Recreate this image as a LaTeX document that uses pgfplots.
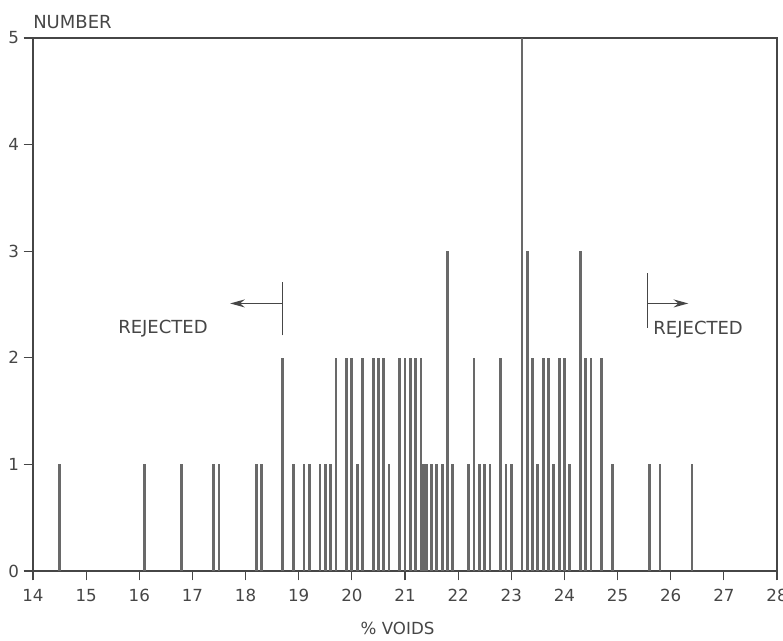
\documentclass[border=0pt]{standalone}
\usepackage{pgfplots}
\pgfplotsset{compat=1.18}
\usepackage{fontspec}
\setmainfont{DejaVu Sans}
\usetikzlibrary{arrows.meta}
\definecolor{ink}{RGB}{105,105,105}
\definecolor{axink}{RGB}{70,70,70}
\begin{document}
\begin{tikzpicture}
\begin{axis}[
  name=ax,
  scale only axis,
  width=558pt, height=399.75pt,
  xmin=14, xmax=28, ymin=0, ymax=5,
  xtick={14,...,28}, ytick={0,...,5},
  tick align=outside,
  xtick pos=bottom, ytick pos=left,
  major tick length=7pt,
  axis line style={axink, line width=1.1pt},
  every tick/.style={axink, line width=0.9pt},
  tick label style={font=\fontsize{12.5}{14}\selectfont, text=axink},
  /pgf/number format/assume math mode=true,
  xticklabel style={yshift=-3pt},
  xlabel={\% VOIDS},
  x label style={at={(axis description cs:0.49,0)}, anchor=center, yshift=-43pt, font=\fontsize{12.5}{14}\selectfont, text=axink},
  clip=false,
]
\addplot[ycomb, ink, line width=2.1pt, mark=none] table {
x y
14.5 1
16.1 1
16.8 1
17.4 1
17.5 1
18.2 1
18.3 1
18.7 2
18.9 1
19.1 1
19.2 1
19.4 1
19.5 1
19.6 1
19.7 2
19.9 2
20.0 2
20.1 1
20.2 2
20.4 2
20.5 2
20.6 2
20.7 1
20.9 2
21.0 2
21.1 2
21.2 2
21.3 2
21.35 1
21.4 1
21.5 1
21.6 1
21.7 1
21.8 3
21.9 1
22.2 1
22.3 2
22.4 1
22.5 1
22.6 1
22.8 2
22.9 1
23.0 1
23.2 5
23.3 3
23.4 2
23.5 1
23.6 2
23.7 2
23.8 1
23.9 2
24.0 2
24.1 1
24.3 3
24.4 2
24.5 2
24.7 2
24.9 1
25.6 1
25.8 1
26.4 1
};
\draw[axink, line width=0.9pt] (axis cs:18.7,2.21) -- (axis cs:18.7,2.71);
\draw[axink, line width=1pt, -{Stealth[length=11pt,width=6pt]}] (axis cs:18.7,2.51) -- (axis cs:17.71,2.51);
\node[anchor=west, inner sep=0pt, text=axink, font=\fontsize{13.5}{15}\selectfont] at (axis cs:15.6,2.27) {REJECTED};
\draw[axink, line width=0.9pt] (axis cs:25.57,2.28) -- (axis cs:25.57,2.80);
\draw[axink, line width=1pt, -{Stealth[length=11pt,width=6pt]}] (axis cs:25.57,2.51) -- (axis cs:26.33,2.51);
\node[anchor=west, inner sep=0pt, text=axink, font=\fontsize{13.5}{15}\selectfont] at (axis cs:25.67,2.26) {REJECTED};
\end{axis}
\node[anchor=west, inner sep=0pt, text=axink, font=\fontsize{13.5}{15}\selectfont] at ([yshift=12pt]ax.north west) {NUMBER};
\pgfresetboundingbox
\path[use as bounding box] ([shift={(-24.75pt,-51.75pt)}]ax.south west) rectangle ([shift={(4.5pt,28.5pt)}]ax.north east);
\end{tikzpicture}
\end{document}
